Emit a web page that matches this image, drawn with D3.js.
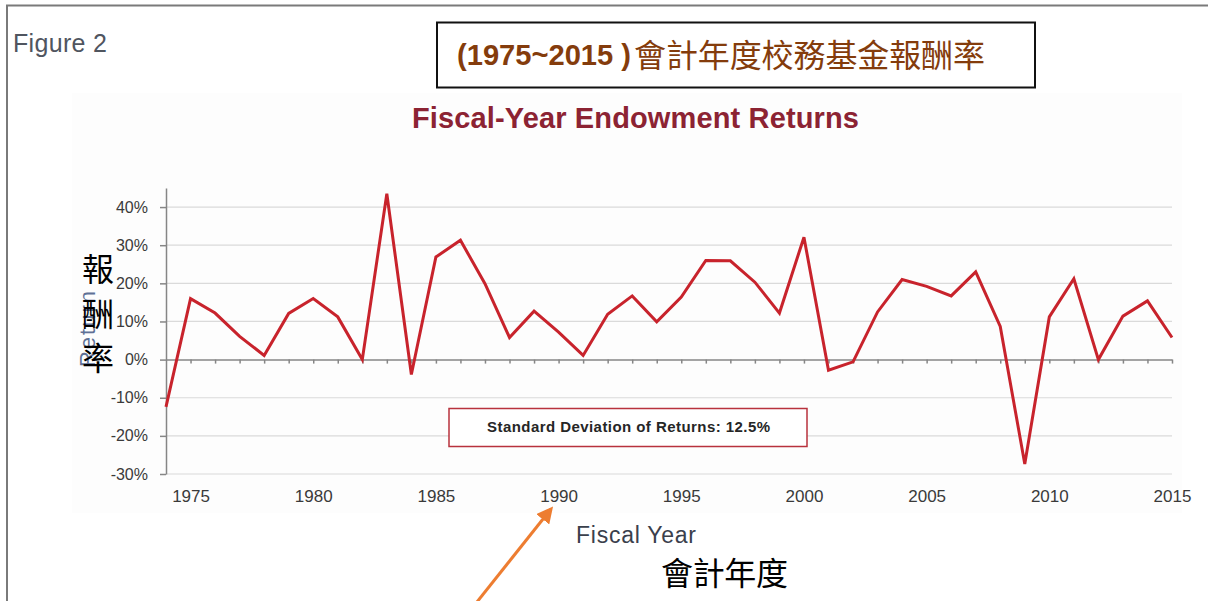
<!DOCTYPE html>
<html lang="zh-Hant">
<head>
<meta charset="UTF-8">
<title>Fiscal-Year Endowment Returns</title>
<script src="https://d3js.org/d3.v7.min.js"></script>
<style>
  body { margin: 0; background: #fff; }
  svg { display: block; }
  .grid line { stroke: #dadada; stroke-width: 1.2; }
  .axis path, .axis line { stroke: #868686; stroke-width: 1.5; }
  .axis text { fill: #3a3a3a; font-family: "Liberation Sans", Arial, sans-serif; }
</style>
</head>
<body>
<svg width="1208" height="601"></svg>
<script>
  // 會計年度 (fiscal year) and endowment return in %
  const years = [1974, 1975, 1976, 1977, 1978, 1979, 1980, 1981, 1982, 1983,
                 1984, 1985, 1986, 1987, 1988, 1989, 1990, 1991, 1992, 1993,
                 1994, 1995, 1996, 1997, 1998, 1999, 2000, 2001, 2002, 2003,
                 2004, 2005, 2006, 2007, 2008, 2009, 2010, 2011, 2012, 2013,
                 2014, 2015];
  const returns = [-12.4, 16.0, 12.2, 6.1, 1.1, 12.1, 16.0, 11.2, 0.0, 43.5,
                   -3.9, 26.9, 31.3, 19.9, 5.8, 12.7, 7.2, 1.1, 11.9, 16.7,
                   9.9, 16.4, 26.0, 25.9, 20.3, 12.2, 32.1, -2.8, -0.6, 12.5,
                   21.0, 19.2, 16.7, 23.0, 8.7, -27.4, 11.2, 21.2, 0.0, 11.4,
                   15.4, 5.8];
  const yTicks = [-30, -20, -10, 0, 10, 20, 30, 40];
  const xLabels = [1975, 1980, 1985, 1990, 1995, 2000, 2005, 2010, 2015];
  const stdText = "Standard Deviation of Returns: 12.5%";

  const svg = d3.select("svg");
  const plot = { left: 166, right: 1172, top: 188, bottom: 474 };

  const x = d3.scaleLinear().domain([1974, 2015]).range([plot.left, plot.right]);
  const y = d3.scaleLinear().domain([-30, 45]).range([plot.bottom, plot.top]);

  // page frame
  svg.append("line").attr("x1", 6).attr("x2", 1208).attr("y1", 5.5).attr("y2", 5.5)
     .attr("stroke", "#7a7a7a").attr("stroke-width", 2);
  svg.append("line").attr("x1", 7).attr("x2", 7).attr("y1", 5).attr("y2", 601)
     .attr("stroke", "#7a7a7a").attr("stroke-width", 2);

  // faint chart area
  svg.append("rect").attr("x", 72).attr("y", 93).attr("width", 1110).attr("height", 420)
     .attr("fill", "#fdfdfd");

  svg.append("text").attr("x", 13).attr("y", 52)
     .attr("font-family", "Liberation Sans, Arial, sans-serif").attr("font-size", 25)
     .attr("textLength", 94).attr("fill", "#50555f")
     .text("Figure 2");

  // boxed Chinese title
  svg.append("rect").attr("x", 437).attr("y", 22.5).attr("width", 598).attr("height", 65)
     .attr("fill", "#fff").attr("stroke", "#111").attr("stroke-width", 2);
  svg.append("text").attr("x", 457).attr("y", 65)
     .attr("font-family", "Liberation Sans, Arial, sans-serif").attr("font-weight", "bold")
     .attr("font-size", 30).attr("textLength", 174).attr("lengthAdjust", "spacingAndGlyphs")
     .attr("fill", "#843c0c")
     .text("(1975~2015 )");
  svg.append("text").attr("x", 634).attr("y", 67)
     .attr("font-family", "Noto Sans CJK TC, sans-serif")
     .attr("font-size", 32).attr("textLength", 351).attr("fill", "#843c0c")
     .text("會計年度校務基金報酬率");

  svg.append("text").attr("x", 412).attr("y", 128)
     .attr("font-family", "Liberation Sans, Arial, sans-serif").attr("font-weight", "bold")
     .attr("font-size", 29).attr("textLength", 447).attr("fill", "#8c2333")
     .text("Fiscal-Year Endowment Returns");

  // grid
  svg.append("g").attr("class", "grid")
     .selectAll("line").data(yTicks.filter(d => d !== 0)).enter().append("line")
     .attr("x1", plot.left).attr("x2", plot.right)
     .attr("y1", d => y(d)).attr("y2", d => y(d));

  // y axis
  const yAxis = svg.append("g").attr("class", "axis")
     .attr("transform", `translate(${plot.left},0)`)
     .call(d3.axisLeft(y).tickValues(yTicks).tickSize(6).tickSizeOuter(0).tickPadding(12)
           .tickFormat(d => d + "%"));
  yAxis.selectAll("text").attr("font-size", 16);

  // zero line with yearly ticks
  svg.append("g").attr("class", "axis")
     .attr("transform", `translate(0,${y(0)})`)
     .call(d3.axisBottom(x).tickValues(years.slice(1)).tickSize(4).tickSizeOuter(0).tickFormat(""));

  // year labels below the plot
  const xAxis = svg.append("g").attr("class", "axis")
     .attr("transform", `translate(0,${plot.bottom})`)
     .call(d3.axisBottom(x).tickValues(xLabels).tickSize(0).tickPadding(16).tickFormat(d3.format("d")));
  xAxis.select(".domain").remove();
  xAxis.selectAll("text").attr("font-size", 17);

  // returns line
  const line = d3.line().x((d, i) => x(years[i])).y(d => y(d));
  svg.append("path").datum(returns)
     .attr("d", line)
     .attr("fill", "none").attr("stroke", "#c8232c").attr("stroke-width", 3)
     .attr("stroke-linejoin", "miter");

  // std dev box
  svg.append("rect").attr("x", 449).attr("y", 408.5).attr("width", 358).attr("height", 38)
     .attr("fill", "#fff").attr("stroke", "#b8323d").attr("stroke-width", 1.5);
  svg.append("text").attr("x", 487).attr("y", 432)
     .attr("font-family", "Liberation Sans, Arial, sans-serif").attr("font-weight", "bold")
     .attr("font-size", 15).attr("textLength", 283).attr("fill", "#262626")
     .text(stdText);

  // y axis titles
  svg.append("text")
     .attr("transform", "translate(95,329) rotate(-90)")
     .attr("text-anchor", "middle")
     .attr("font-family", "Liberation Sans, Arial, sans-serif")
     .attr("font-size", 22).attr("textLength", 76).attr("fill", "#5f7196")
     .text("Return");
  svg.selectAll(".ylab").data(["報", "酬", "率"]).enter().append("text")
     .attr("class", "ylab")
     .attr("x", 98).attr("y", (d, i) => 281 + i * 44.5)
     .attr("text-anchor", "middle")
     .attr("font-family", "Noto Sans CJK TC, sans-serif")
     .attr("font-size", 32).attr("fill", "#000")
     .text(d => d);

  // x axis titles
  svg.append("text").attr("x", 576).attr("y", 543)
     .attr("font-family", "Liberation Sans, Arial, sans-serif")
     .attr("font-size", 23).attr("textLength", 120).attr("fill", "#3a404c")
     .text("Fiscal Year");
  svg.append("text").attr("x", 661).attr("y", 585)
     .attr("font-family", "Noto Sans CJK TC, sans-serif")
     .attr("font-size", 32).attr("textLength", 127).attr("fill", "#000")
     .text("會計年度");

  // orange pointer
  svg.append("defs").append("marker")
     .attr("id", "head").attr("viewBox", "0 0 10 10")
     .attr("refX", 8).attr("refY", 5)
     .attr("markerWidth", 5.5).attr("markerHeight", 5.5)
     .attr("orient", "auto")
     .append("path").attr("d", "M0,0 L10,5 L0,10 Z").attr("fill", "#ed7d31");
  svg.append("line")
     .attr("x1", 469).attr("y1", 612).attr("x2", 551).attr("y2", 509)
     .attr("stroke", "#ed7d31").attr("stroke-width", 3)
     .attr("marker-end", "url(#head)");
</script>
</body>
</html>
